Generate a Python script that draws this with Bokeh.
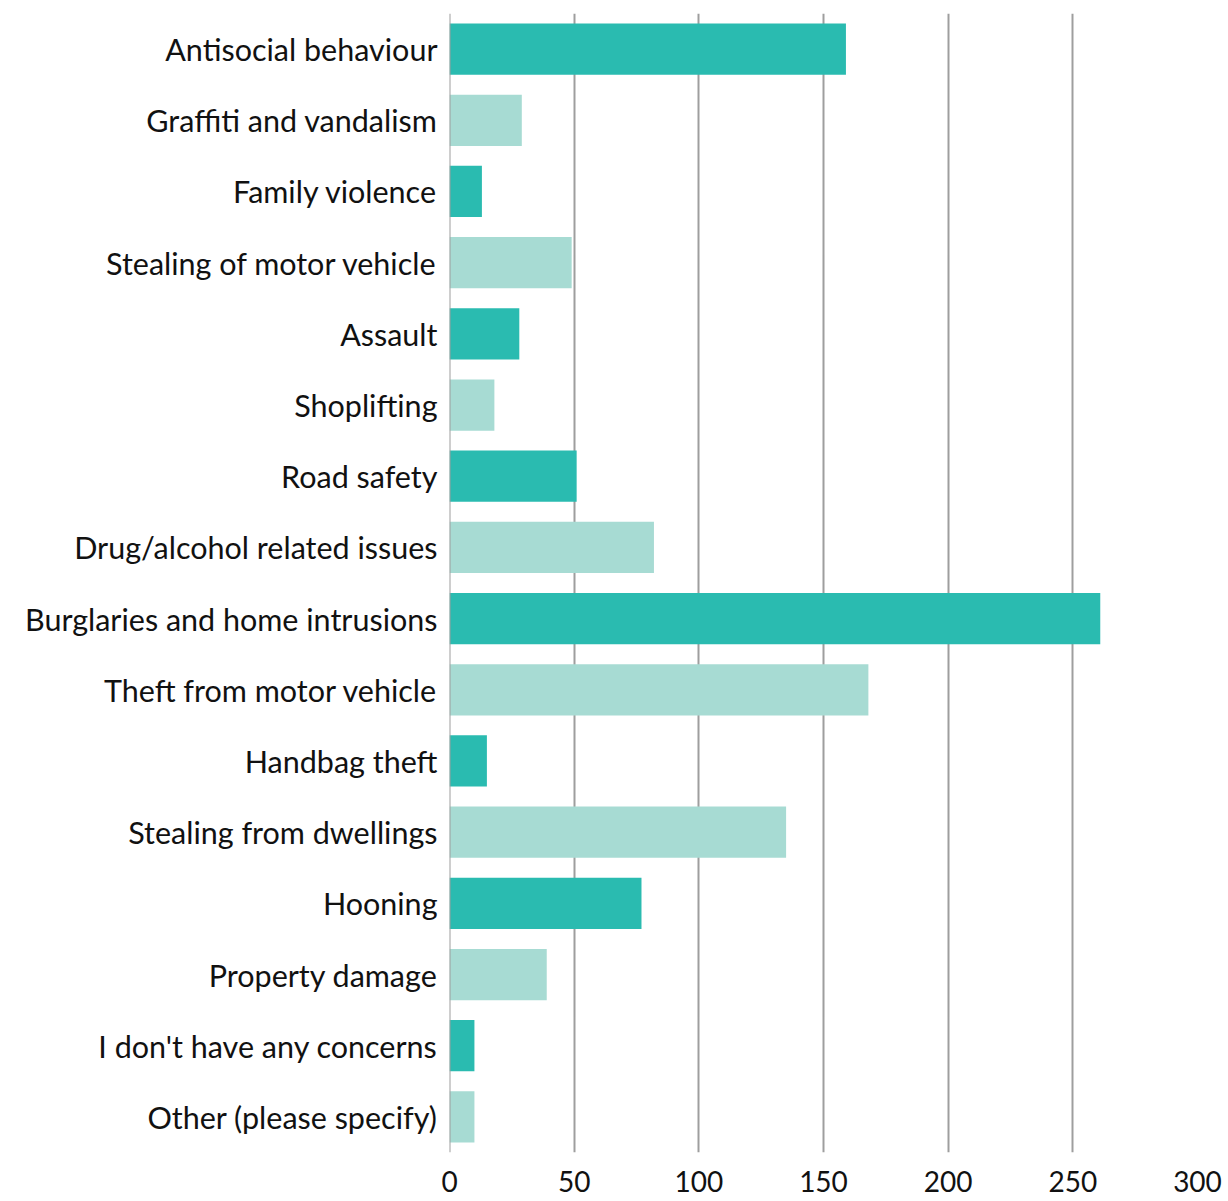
from bokeh.plotting import figure
from bokeh.models import FactorRange, ColumnDataSource, Span, FixedTicker
from bokeh.embed import file_html
from bokeh.resources import INLINE

categories = [
    "Antisocial behaviour",
    "Graffiti and vandalism",
    "Family violence",
    "Stealing of motor vehicle",
    "Assault",
    "Shoplifting",
    "Road safety",
    "Drug/alcohol related issues",
    "Burglaries and home intrusions",
    "Theft from motor vehicle",
    "Handbag theft",
    "Stealing from dwellings",
    "Hooning",
    "Property damage",
    "I don't have any concerns",
    "Other (please specify)",
]
counts = [159, 29, 13, 49, 28, 18, 51, 82, 261, 168, 15, 135, 77, 39, 10, 10]
x_ticks = [0, 50, 100, 150, 200, 250, 300]

DARK = "#2ABBB0"
LIGHT = "#A7DBD3"
colors = [DARK if i % 2 == 0 else LIGHT for i in range(len(categories))]

source = ColumnDataSource(dict(cat=categories, val=counts, color=colors))

FONT = "Lato"

p = figure(
    width=1228, height=1201,
    y_range=FactorRange(*reversed(categories), range_padding=0),
    x_range=(0, 300),
    output_backend="svg", toolbar_location=None,
    min_border_left=449, min_border_right=31, min_border_top=13, min_border_bottom=49,
)
p.outline_line_color = None
p.background_fill_color = "white"
p.border_fill_color = "white"

p.hbar(y="cat", right="val", left=0, height=0.72, color="color", line_color=None, source=source)

p.xgrid.ticker = FixedTicker(ticks=x_ticks)
p.xgrid.grid_line_color = "#9E9E9E"
p.xgrid.grid_line_width = 2
p.ygrid.grid_line_color = None

p.add_layout(Span(location=0, dimension="height", line_color="#9E9E9E", line_width=2, level="overlay"))

p.xaxis.ticker = FixedTicker(ticks=x_ticks)
p.xaxis.axis_line_color = None
p.xaxis.major_tick_line_color = None
p.xaxis.minor_tick_line_color = None
p.xaxis.major_label_text_font = FONT
p.xaxis.major_label_text_font_size = "28px"
p.xaxis.major_label_text_color = "#111111"
p.xaxis.major_label_standoff = 12

p.yaxis.axis_line_color = None
p.yaxis.major_tick_line_color = None
p.yaxis.minor_tick_line_color = None
p.yaxis.major_label_text_font = FONT
p.yaxis.major_label_text_font_size = "30.5px"
p.yaxis.major_label_text_color = "#111111"
p.yaxis.major_label_standoff = 6

open("out.html", "w").write(file_html(p, INLINE))
